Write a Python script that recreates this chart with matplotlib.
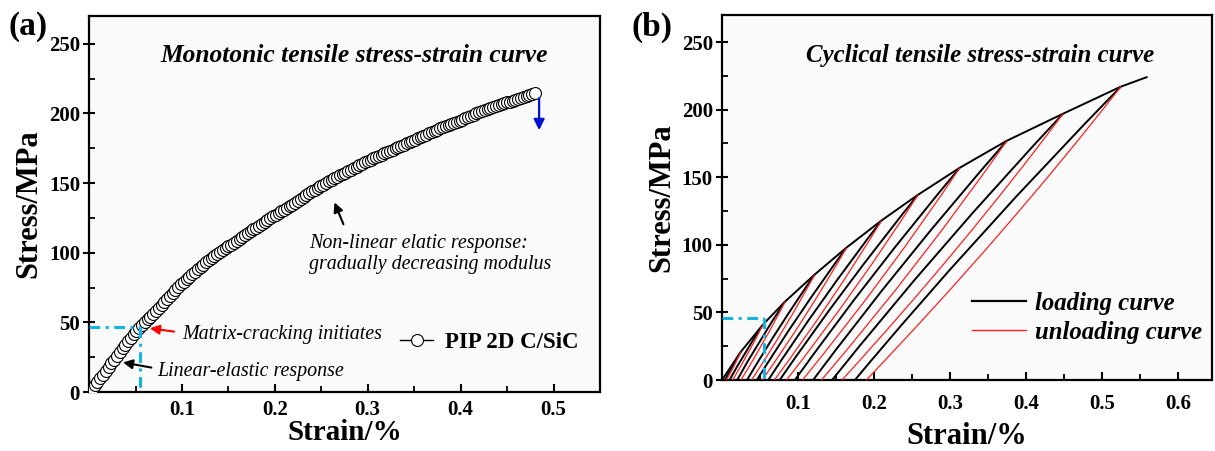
import matplotlib
matplotlib.use("Agg")
import matplotlib.pyplot as plt
from matplotlib.path import Path
from matplotlib.patches import PathPatch
from matplotlib.lines import Line2D

plt.rcParams['font.family'] = 'Liberation Serif'

# (a) monotonic tensile test, PIP 2D C/SiC
mono_strain = [0.003, 0.006, 0.009, 0.012, 0.015, 0.018, 0.021, 0.024, 0.027, 0.030,
               0.033, 0.036, 0.039, 0.042, 0.045, 0.048, 0.051, 0.054, 0.057, 0.060,
               0.063, 0.066, 0.069, 0.072, 0.075, 0.078, 0.081, 0.084, 0.087, 0.090,
               0.093, 0.096, 0.099, 0.102, 0.105, 0.108, 0.111, 0.114, 0.117, 0.120,
               0.123, 0.126, 0.129, 0.132, 0.135, 0.138, 0.141, 0.144, 0.147, 0.150,
               0.153, 0.156, 0.159, 0.162, 0.165, 0.168, 0.171, 0.174, 0.177, 0.180,
               0.183, 0.186, 0.189, 0.192, 0.195, 0.198, 0.201, 0.204, 0.207, 0.210,
               0.213, 0.216, 0.219, 0.222, 0.225, 0.228, 0.231, 0.234, 0.237, 0.240,
               0.243, 0.246, 0.249, 0.252, 0.255, 0.258, 0.261, 0.264, 0.267, 0.270,
               0.273, 0.276, 0.279, 0.282, 0.285, 0.288, 0.291, 0.294, 0.297, 0.300,
               0.303, 0.306, 0.309, 0.312, 0.315, 0.318, 0.321, 0.324, 0.327, 0.330,
               0.333, 0.336, 0.339, 0.342, 0.345, 0.348, 0.351, 0.354, 0.357, 0.360,
               0.363, 0.366, 0.369, 0.372, 0.375, 0.378, 0.381, 0.384, 0.387, 0.390,
               0.393, 0.396, 0.399, 0.402, 0.405, 0.408, 0.411, 0.414, 0.417, 0.420,
               0.423, 0.426, 0.429, 0.432, 0.435, 0.438, 0.441, 0.444, 0.447, 0.450,
               0.453, 0.456, 0.459, 0.462, 0.465, 0.468, 0.471, 0.474, 0.477, 0.480]
mono_stress = [2.4, 4.8, 7.2, 9.8, 12.5, 15.2, 17.9, 20.6, 23.3, 26.0,
               28.7, 31.4, 34.1, 36.6, 39.0, 41.4, 43.7, 45.8, 47.9, 50.0,
               52.1, 54.2, 56.3, 58.4, 60.5, 62.6, 64.7, 66.8, 68.9, 71.0,
               73.1, 75.2, 77.3, 79.2, 81.0, 82.8, 84.6, 86.4, 88.2, 90.0,
               91.5, 93.0, 94.5, 96.0, 97.5, 99.0, 100.5, 101.8, 103.2, 104.5,
               105.9, 107.2, 108.6, 109.9, 111.3, 112.6, 114.0, 115.3, 116.7, 118.0,
               119.4, 120.7, 122.1, 123.4, 124.8, 126.1, 127.4, 128.6, 129.8, 131.0,
               132.2, 133.4, 134.6, 135.9, 137.3, 138.6, 140.0, 141.3, 142.7, 144.0,
               145.2, 146.4, 147.6, 148.8, 150.0, 151.2, 152.4, 153.4, 154.5, 155.5,
               156.6, 157.6, 158.7, 159.7, 160.8, 161.8, 162.9, 163.9, 165.0, 166.0,
               166.9, 167.8, 168.7, 169.6, 170.5, 171.4, 172.3, 173.2, 174.1, 175.0,
               175.9, 176.8, 177.7, 178.6, 179.5, 180.4, 181.3, 182.2, 183.1, 184.0,
               184.9, 185.8, 186.7, 187.6, 188.5, 189.4, 190.3, 191.0, 191.8, 192.5,
               193.3, 194.0, 194.8, 195.6, 196.5, 197.4, 198.3, 199.2, 200.1, 201.0,
               201.8, 202.5, 203.3, 204.0, 204.8, 205.5, 206.2, 206.8, 207.4, 208.0,
               208.6, 209.2, 209.8, 210.5, 211.3, 212.0, 212.8, 213.5, 214.3, 215.0]

# matrix cracking point
crack_strain = 0.055
crack_stress = 47

# (b) cyclic loading / unloading loops
peak_strain = [0.025, 0.054, 0.083, 0.122, 0.164, 0.210, 0.258, 0.313, 0.375, 0.449, 0.525]
peak_stress = [21, 41, 58, 78, 98, 118, 137, 157, 177, 197, 217]
resid_strain = [0.004, 0.010, 0.020, 0.033, 0.046, 0.061, 0.076, 0.096, 0.120, 0.145, 0.175]
red_end_strain = [0.006, 0.014, 0.025, 0.039, 0.053, 0.069, 0.085, 0.106, 0.131, 0.158, 0.190]
# strain of each branch at half of the peak stress
red_mid_strain = [0.016, 0.035, 0.0555, 0.0826, 0.1113, 0.143, 0.1758, 0.2147, 0.2591, 0.3108, 0.3659]
black_mid_strain = [0.014, 0.031, 0.050, 0.0757, 0.1026, 0.1325, 0.1634, 0.2002, 0.2424, 0.2909, 0.343]
fail_strain = 0.559
fail_stress = 224
cyc_crack_strain = 0.055
cyc_crack_stress = 46

cyan = '#12b4e6'
fig = plt.figure(figsize=(12.15, 4.51), dpi=100)
ax1 = fig.add_axes([0.0733, 0.1308, 0.4205, 0.8337])
ax2 = fig.add_axes([0.5942, 0.1574, 0.4033, 0.8093])


def style_axes(ax, xt, xmax, xpad, labpad, labsize):
    ax.set_facecolor('#fafafa')
    ax.set_xlim(0, xmax)
    ax.set_ylim(0, 270)
    ax.set_xticks(xt)
    ax.set_xticklabels(['%.1f' % v for v in xt])
    ax.set_xticks([v * 0.05 for v in range(1, int(xmax / 0.05) + 1)], minor=True)
    ax.set_yticks([0, 50, 100, 150, 200, 250])
    ax.set_yticks([25, 75, 125, 175, 225], minor=True)
    for s in ax.spines.values():
        s.set_linewidth(1.6)
    ax.tick_params(axis='x', which='major', direction='in', length=6, width=1.5, pad=xpad, labelsize=15)
    ax.tick_params(axis='x', which='minor', direction='in', length=4, width=1.3)
    ax.tick_params(axis='y', which='major', direction='inout', length=9, width=1.5, pad=2, labelsize=15)
    ax.tick_params(axis='y', which='minor', direction='in', length=4, width=1.3)
    for lab in ax.get_xticklabels() + ax.get_yticklabels():
        lab.set_fontweight('bold')
    ax.set_xlabel('Strain/%', fontsize=labsize, fontweight='bold', labelpad=labpad)
    ax.set_ylabel('Stress/MPa', fontsize=22, fontweight='bold', labelpad=4)


# ---------- (a) ----------
style_axes(ax1, [0.1, 0.2, 0.3, 0.4, 0.5], 0.55, 6, -1, 21)
ax1.plot(mono_strain, mono_stress, '-o', color='black', lw=1, ms=8.6,
         mfc='white', mec='black', mew=0.8, label='PIP 2D C/SiC', zorder=3)
dd = dict(color=cyan, lw=2.2, dashes=[3.5, 1.8, 1, 1.8], zorder=4)
ax1.plot([0, crack_strain], [crack_stress, crack_stress], **dd)
ax1.plot([crack_strain, crack_strain], [crack_stress, 0], **dd)

ax1.text(0.519, 0.896, 'Monotonic tensile stress-strain curve', transform=ax1.transAxes,
         ha='center', va='center', fontsize=18.4, fontweight='bold', style='italic')
ax1.text(0.100, 41, 'Matrix-cracking initiates', fontsize=14.4, style='italic', va='center')
ax1.text(0.0732, 14.4, 'Linear-elastic response', fontsize=14.4, style='italic', va='center')
ax1.text(0.2373, 99, 'Non-linear elatic response:\ngradually decreasing modulus',
         fontsize=14.4, style='italic', va='center', linespacing=1.1)

ax1.annotate('', xy=(0.0625, 46), xytext=(0.0946, 43.1),
             arrowprops=dict(arrowstyle='-|>', color='red', lw=1.5, mutation_scale=14), zorder=5)
ax1.annotate('', xy=(0.0336, 21.6), xytext=(0.070, 17.2),
             arrowprops=dict(arrowstyle='-|>', color='black', lw=1.5, mutation_scale=14), zorder=5)
ax1.annotate('', xy=(0.263, 138), xytext=(0.275, 118.6),
             arrowprops=dict(arrowstyle='-|>', color='black', lw=1.5, mutation_scale=14), zorder=5)
ax1.annotate('', xy=(0.4845, 186), xytext=(0.4845, 213),
             arrowprops=dict(arrowstyle='-|>', color='#0010d0', lw=1.6, mutation_scale=16), zorder=5)

ax1.legend(loc='center left', bbox_to_anchor=(0.609, 0.133), frameon=False,
           borderaxespad=0, borderpad=0, handlelength=1.45, handletextpad=0.5,
           prop=dict(size=16.5, weight='bold'))

# ---------- (b) ----------
style_axes(ax2, [0.1, 0.2, 0.3, 0.4, 0.5, 0.6], 0.645, 10, 6, 22)


def bezier(p0, mid, p1):
    # quadratic curve passing through the mid point
    c = (2 * mid[0] - (p0[0] + p1[0]) / 2, 2 * mid[1] - (p0[1] + p1[1]) / 2)
    return Path([p0, c, p1], [Path.MOVETO, Path.CURVE3, Path.CURVE3])


env_x = [0] + peak_strain + [fail_strain]
env_y = [0] + peak_stress + [fail_stress]
ax2.plot(env_x, env_y, color='black', lw=1.4, zorder=3, solid_joinstyle='round')
for k in range(len(peak_strain)):
    pk = (peak_strain[k], peak_stress[k])
    half = peak_stress[k] / 2
    ax2.add_patch(PathPatch(bezier((resid_strain[k], 0), (black_mid_strain[k], half), pk),
                            fc='none', ec='black', lw=1.4, zorder=3))
    ax2.add_patch(PathPatch(bezier(pk, (red_mid_strain[k], half), (red_end_strain[k], 0)),
                            fc='none', ec='#ff2020', lw=0.9, zorder=4))

ax2.plot([0, cyc_crack_strain], [cyc_crack_stress, cyc_crack_stress], **dd)
ax2.plot([cyc_crack_strain, cyc_crack_strain], [cyc_crack_stress, 0], **dd)

ax2.text(0.527, 0.89, 'Cyclical tensile stress-strain curve', transform=ax2.transAxes,
         ha='center', va='center', fontsize=17.9, fontweight='bold', style='italic')
handles = [Line2D([], [], color='black', lw=1.6), Line2D([], [], color='#ff2020', lw=1.0)]
ax2.legend(handles, ['loading curve', 'unloading curve'], loc='center left',
           bbox_to_anchor=(0.51, 0.17), frameon=False, borderaxespad=0, borderpad=0,
           handlelength=2.2, handletextpad=0.35, labelspacing=0.25,
           prop=dict(size=17.8, weight='bold', style='italic'))

fig.text(0.0066, 0.942, '(a)', fontsize=24, fontweight='bold', va='center')
fig.text(0.520, 0.940, '(b)', fontsize=24, fontweight='bold', va='center')

fig.savefig('out.png', dpi=100, facecolor='white')
